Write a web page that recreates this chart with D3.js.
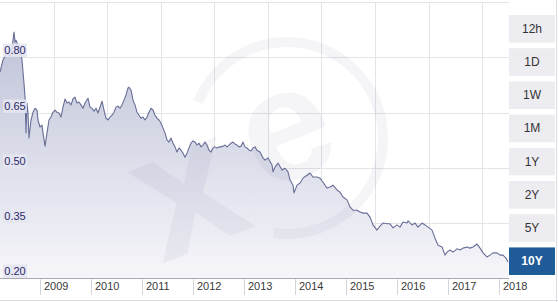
<!DOCTYPE html>
<html>
<head>
<meta charset="utf-8">
<script src="https://cdn.jsdelivr.net/npm/d3@7"></script>
<style>
  body { margin: 0; background: #fff; }
  svg { display: block; font-family: "Liberation Sans", Arial, sans-serif; }
</style>
</head>
<body>
<script>
// decimal years of the sampled points
var years = [
  2008.209, 2008.268, 2008.346, 2008.405, 2008.445, 2008.484, 2008.504, 2008.523, 2008.562, 2008.602,
  2008.641, 2008.680, 2008.700, 2008.720, 2008.739, 2008.759, 2008.778, 2008.818, 2008.857, 2008.896,
  2008.935, 2008.955, 2008.994, 2009.034, 2009.053, 2009.093, 2009.132, 2009.171, 2009.210, 2009.250,
  2009.289, 2009.328, 2009.367, 2009.407, 2009.446, 2009.485, 2009.525, 2009.564, 2009.603, 2009.642,
  2009.682, 2009.721, 2009.760, 2009.799, 2009.839, 2009.878, 2009.937, 2009.976, 2010.015, 2010.055,
  2010.094, 2010.133, 2010.173, 2010.212, 2010.251, 2010.290, 2010.330, 2010.369, 2010.408, 2010.447,
  2010.487, 2010.526, 2010.565, 2010.604, 2010.644, 2010.683, 2010.722, 2010.742, 2010.781, 2010.801,
  2010.820, 2010.860, 2010.899, 2010.938, 2010.978, 2011.017, 2011.056, 2011.095, 2011.135, 2011.174,
  2011.213, 2011.252, 2011.292, 2011.331, 2011.370, 2011.410, 2011.449, 2011.488, 2011.527, 2011.567,
  2011.606, 2011.645, 2011.684, 2011.724, 2011.763, 2011.802, 2011.841, 2011.881, 2011.920, 2011.959,
  2011.999, 2012.038, 2012.077, 2012.116, 2012.156, 2012.195, 2012.234, 2012.273, 2012.313, 2012.352,
  2012.391, 2012.431, 2012.470, 2012.509, 2012.548, 2012.588, 2012.627, 2012.666, 2012.705, 2012.745,
  2012.784, 2012.823, 2012.862, 2012.902, 2012.941, 2012.980, 2013.020, 2013.059, 2013.098, 2013.137,
  2013.177, 2013.216, 2013.255, 2013.314, 2013.373, 2013.412, 2013.471, 2013.550, 2013.569, 2013.609,
  2013.668, 2013.746, 2013.805, 2013.864, 2013.903, 2013.962, 2013.982, 2014.041, 2014.100, 2014.158,
  2014.237, 2014.296, 2014.355, 2014.433, 2014.492, 2014.551, 2014.630, 2014.689, 2014.747, 2014.826,
  2014.885, 2014.944, 2015.022, 2015.081, 2015.140, 2015.219, 2015.278, 2015.337, 2015.415, 2015.474,
  2015.533, 2015.611, 2015.670, 2015.729, 2015.808, 2015.867, 2015.926, 2016.004, 2016.063, 2016.122,
  2016.200, 2016.220, 2016.299, 2016.358, 2016.416, 2016.495, 2016.554, 2016.613, 2016.691, 2016.750,
  2016.809, 2016.888, 2016.947, 2016.986, 2017.045, 2017.104, 2017.182, 2017.241, 2017.300, 2017.379,
  2017.437, 2017.496, 2017.575, 2017.634, 2017.693, 2017.771, 2017.830, 2017.889, 2017.968, 2018.027,
  2018.085, 2018.144, 2018.184
];

// rate for each sample
var rates = [
  0.760, 0.793, 0.812, 0.804, 0.825, 0.869, 0.842, 0.847, 0.833, 0.825,
  0.793, 0.730, 0.692, 0.595, 0.676, 0.649, 0.581, 0.630, 0.651, 0.662,
  0.657, 0.630, 0.611, 0.616, 0.595, 0.559, 0.595, 0.630, 0.638, 0.651,
  0.657, 0.651, 0.649, 0.638, 0.665, 0.687, 0.676, 0.679, 0.671, 0.687,
  0.692, 0.676, 0.679, 0.671, 0.662, 0.676, 0.689, 0.665, 0.662, 0.654,
  0.662, 0.649, 0.665, 0.681, 0.657, 0.635, 0.630, 0.638, 0.643, 0.651,
  0.665, 0.668, 0.662, 0.671, 0.684, 0.698, 0.717, 0.719, 0.711, 0.698,
  0.684, 0.671, 0.651, 0.643, 0.635, 0.638, 0.630, 0.638, 0.651, 0.662,
  0.657, 0.643, 0.635, 0.630, 0.622, 0.608, 0.595, 0.576, 0.570, 0.581,
  0.567, 0.557, 0.543, 0.554, 0.548, 0.540, 0.529, 0.540, 0.554, 0.567,
  0.573, 0.570, 0.562, 0.567, 0.557, 0.562, 0.570, 0.562, 0.548, 0.543,
  0.554, 0.557, 0.554, 0.557, 0.557, 0.559, 0.562, 0.557, 0.562, 0.567,
  0.570, 0.565, 0.562, 0.557, 0.559, 0.570, 0.557, 0.554, 0.548, 0.546,
  0.554, 0.557, 0.548, 0.543, 0.527, 0.521, 0.527, 0.508, 0.489, 0.502,
  0.513, 0.494, 0.499, 0.489, 0.467, 0.453, 0.432, 0.453, 0.459, 0.472,
  0.480, 0.486, 0.475, 0.475, 0.472, 0.461, 0.445, 0.448, 0.453, 0.440,
  0.434, 0.421, 0.413, 0.394, 0.385, 0.385, 0.380, 0.377, 0.377, 0.366,
  0.345, 0.331, 0.342, 0.350, 0.348, 0.348, 0.337, 0.345, 0.339, 0.353,
  0.350, 0.356, 0.345, 0.350, 0.339, 0.350, 0.345, 0.339, 0.331, 0.309,
  0.290, 0.285, 0.263, 0.271, 0.277, 0.271, 0.280, 0.277, 0.282, 0.285,
  0.282, 0.285, 0.293, 0.282, 0.269, 0.258, 0.263, 0.269, 0.269, 0.263,
  0.263, 0.255, 0.244
];

var yTicks = [0.20, 0.35, 0.50, 0.65, 0.80];
var yGrid = [0.20, 0.35, 0.50, 0.65, 0.80, 0.95];
var xTicks = [2009, 2010, 2011, 2012, 2013, 2014, 2015, 2016, 2017, 2018];
var ranges = ["12h", "1D", "1W", "1M", "1Y", "2Y", "5Y", "10Y"];
var activeRange = "10Y";

var W = 558, H = 302;
var plot = { left: 0, right: 509, top: 2.2, bottom: 278.3 };

var data = years.map(function(yr, i){ return { year: yr, rate: rates[i] }; });

var svg = d3.select("body").append("svg")
  .attr("width", W)
  .attr("height", H);

var x = d3.scaleLinear()
  .domain([2008.209, 2018.203])
  .range([plot.left, plot.right]);

var y = d3.scaleLinear()
  .domain([0.20, 0.95])
  .range([plot.bottom, plot.top]);

// gradient for the area
var grad = svg.append("defs").append("linearGradient")
  .attr("id", "fade")
  .attr("gradientUnits", "userSpaceOnUse")
  .attr("x1", 0).attr("x2", 0)
  .attr("y1", plot.top).attr("y2", plot.bottom);
grad.append("stop").attr("offset", "0%").attr("stop-color", "#b9bdd4");
grad.append("stop").attr("offset", "100%").attr("stop-color", "#f6f6fa");

// grid
var grid = svg.append("g").attr("class", "grid");
grid.selectAll("line.h")
  .data(yGrid)
  .enter().append("line")
  .attr("x1", plot.left).attr("x2", plot.right)
  .attr("y1", function(d){ return Math.round(y(d)) + 0.5; })
  .attr("y2", function(d){ return Math.round(y(d)) + 0.5; })
  .attr("stroke", "#e3e3e8");

// vertical grid is spaced evenly, not on the year ticks
var vGrid = d3.range(1, 10).map(function(k){ return plot.left + k * (plot.right - plot.left) / 9.5; });
grid.selectAll("line.v")
  .data(vGrid)
  .enter().append("line")
  .attr("x1", function(d){ return Math.round(d) + 0.5; })
  .attr("x2", function(d){ return Math.round(d) + 0.5; })
  .attr("y1", plot.top).attr("y2", plot.bottom)
  .attr("stroke", "#e3e3e8");

// area + line
var area = d3.area()
  .x(function(d){ return x(d.year); })
  .y0(plot.bottom)
  .y1(function(d){ return y(d.rate); });

var line = d3.line()
  .x(function(d){ return x(d.year); })
  .y(function(d){ return y(d.rate); });

svg.append("path")
  .datum(data)
  .attr("d", area)
  .attr("fill", "url(#fade)");

// watermark
var wm = svg.append("g")
  .attr("transform", "translate(287,138)")
  .attr("fill", "#50508a")
  .attr("fill-opacity", 0.06);
wm.append("path")
  .attr("d", d3.arc()
    .innerRadius(91)
    .outerRadius(101)
    .startAngle(-68 * Math.PI / 180)
    .endAngle(188 * Math.PI / 180)());
wm.append("text")
  .attr("transform", "rotate(-22)")
  .attr("text-anchor", "middle")
  .attr("y", 42)
  .attr("x", 2)
  .attr("font-size", 160)
  .attr("font-weight", "bold")
  .text("e");
wm.append("text")
  .attr("transform", "translate(-95,65) rotate(-22)")
  .attr("text-anchor", "middle")
  .attr("y", 45)
  .attr("font-size", 185)
  .attr("font-weight", "bold")
  .text("x");

svg.append("path")
  .datum(data)
  .attr("d", line)
  .attr("fill", "none")
  .attr("stroke", "#676e96")
  .attr("stroke-width", 1.1)
  .attr("stroke-linejoin", "round");

// x axis
svg.append("line")
  .attr("x1", plot.left).attr("x2", plot.right)
  .attr("y1", Math.round(plot.bottom) + 0.5)
  .attr("y2", Math.round(plot.bottom) + 0.5)
  .attr("stroke", "#a9a9b6");

var xt = svg.append("g").selectAll("g")
  .data(xTicks)
  .enter().append("g")
  .attr("transform", function(d){ return "translate(" + (Math.round(x(d)) + 0.5) + ",0)"; });
xt.append("line")
  .attr("y1", plot.bottom + 1).attr("y2", 295)
  .attr("stroke", "#d4d4da");
xt.append("text")
  .attr("x", 3.5)
  .attr("y", 290)
  .attr("font-size", 11)
  .attr("fill", "#3a3a3a")
  .text(function(d){ return d; });

// y labels
var yl = svg.append("g").selectAll("g")
  .data(yTicks)
  .enter().append("g")
  .attr("transform", function(d){ return "translate(3," + Math.round(y(d)) + ")"; });
yl.append("rect")
  .attr("y", -13.5)
  .attr("width", 24)
  .attr("height", 13.5)
  .attr("fill", "#e6e6f0")
  .attr("fill-opacity", 0.9);
yl.append("text")
  .attr("x", 12)
  .attr("y", -3)
  .attr("text-anchor", "middle")
  .attr("font-size", 11)
  .attr("fill", "#2a2a6c")
  .text(function(d){ return d3.format(".2f")(d); });

// range buttons
var band = d3.scaleBand()
  .domain(ranges)
  .range([15, 275])
  .paddingInner(0.17);

var btn = svg.append("g").selectAll("g")
  .data(ranges)
  .enter().append("g")
  .attr("transform", function(d){ return "translate(509," + band(d) + ")"; });
btn.append("rect")
  .attr("width", 46)
  .attr("height", band.bandwidth())
  .attr("fill", function(d){ return d === activeRange ? "#1f5b98" : "#ececf1"; });
btn.append("text")
  .attr("x", 23)
  .attr("y", band.bandwidth() / 2 + 4)
  .attr("text-anchor", "middle")
  .attr("font-size", 12)
  .attr("fill", function(d){ return d === activeRange ? "#fff" : "#333"; })
  .attr("font-weight", function(d){ return d === activeRange ? "bold" : "normal"; })
  .text(function(d){ return d; });

// outer frame (right and bottom)
svg.append("line")
  .attr("x1", 556.5).attr("x2", 556.5)
  .attr("y1", 0).attr("y2", H)
  .attr("stroke", "#dcdce2");
svg.append("line")
  .attr("x1", 0).attr("x2", W)
  .attr("y1", 300.5).attr("y2", 300.5)
  .attr("stroke", "#dcdce2");
</script>
</body>
</html>
